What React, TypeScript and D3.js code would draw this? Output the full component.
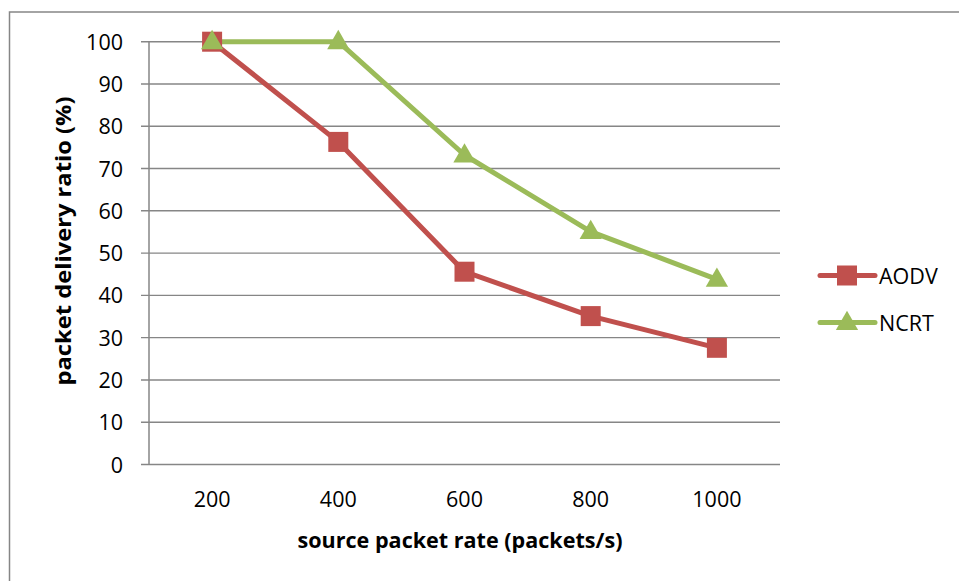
import React from "react";
import * as d3 from "d3";

const categories = ["200", "400", "600", "800", "1000"];
const aodv = [100, 76.3, 45.6, 35.1, 27.6];
const ncrt = [100, 100, 73.2, 55.1, 43.8];
const yTicks = [0, 10, 20, 30, 40, 50, 60, 70, 80, 90, 100];
const seriesNames = ["AODV", "NCRT"];

const RED = "#C0504D";
const GREEN = "#9BBB59";
const GRID = "#868686";
const FONT = "'Open Sans', 'Liberation Sans', sans-serif";

export default function App() {
  const W = 959, H = 581;
  const left = 149, right = 780, top = 41.7, bottom = 464.5;
  const x = d3.scaleBand<string>().domain(categories).range([left, right]);
  const cx = (c: string) => (x(c) as number) + x.bandwidth() / 2;
  const y = d3.scaleLinear().domain([0, 100]).range([bottom, top]);
  const line = d3.line<number>().x((_, i) => cx(categories[i])).y((d) => y(d));
  const tri = d3.symbol().type(d3.symbolTriangle).size(215);

  const square = (px: number, py: number, key: string) => (
    <rect key={key} x={px - 10} y={py - 10} width={20} height={20} fill={RED} />
  );
  const triangle = (px: number, py: number, key: string) => (
    <path key={key} d={tri() as string} transform={`translate(${px},${py + 1})`} fill={GREEN} />
  );

  return (
    <svg width={W} height={H} style={{ position: "absolute", left: 0, top: 0, background: "#fff" }}>
      <rect x={9.5} y={12} width={1000} height={1000} fill="#fff" stroke={GRID} strokeWidth={1.5} />
      {yTicks.map((t) => (
        <g key={t}>
          <line x1={left - 8} x2={right} y1={y(t)} y2={y(t)} stroke={GRID} strokeWidth={1.4} />
          <text x={123} y={y(t) + 8} textAnchor="end" fontFamily={FONT} fontSize={21.5} fill="#000">
            {t}
          </text>
        </g>
      ))}
      <line x1={left} x2={left} y1={top} y2={bottom} stroke={GRID} strokeWidth={1.5} />
      {categories.map((c) => (
        <text key={c} x={cx(c)} y={507} textAnchor="middle" fontFamily={FONT} fontSize={21.5} fill="#000">
          {c}
        </text>
      ))}
      <path d={line(aodv) as string} fill="none" stroke={RED} strokeWidth={5} strokeLinejoin="round" />
      <path d={line(ncrt) as string} fill="none" stroke={GREEN} strokeWidth={5} strokeLinejoin="round" />
      {aodv.map((v, i) => square(cx(categories[i]), y(v), "a" + i))}
      {ncrt.map((v, i) => triangle(cx(categories[i]), y(v), "n" + i))}

      <text x={460} y={548} textAnchor="middle" fontFamily={FONT} fontWeight="bold" fontSize={21}
        textLength={325} lengthAdjust="spacingAndGlyphs" fill="#000">
        source packet rate (packets/s)
      </text>
      <text transform="translate(71,241) rotate(-90)" textAnchor="middle" fontFamily={FONT} fontWeight="bold"
        fontSize={21} textLength={289} lengthAdjust="spacingAndGlyphs" fill="#000">
        packet delivery ratio (%)
      </text>

      {seriesNames.map((s, i) => {
        const ly = 275.5 + i * 47;
        return (
          <g key={s}>
            <line x1={820} x2={875} y1={ly} y2={ly} stroke={i === 0 ? RED : GREEN} strokeWidth={5} strokeLinecap="round" />
            {i === 0 ? square(847, ly, "l" + i) : triangle(847, ly, "l" + i)}
            <text x={879} y={ly + 8} fontFamily={FONT} fontSize={21.5} fill="#000">
              {s}
            </text>
          </g>
        );
      })}
    </svg>
  );
}
